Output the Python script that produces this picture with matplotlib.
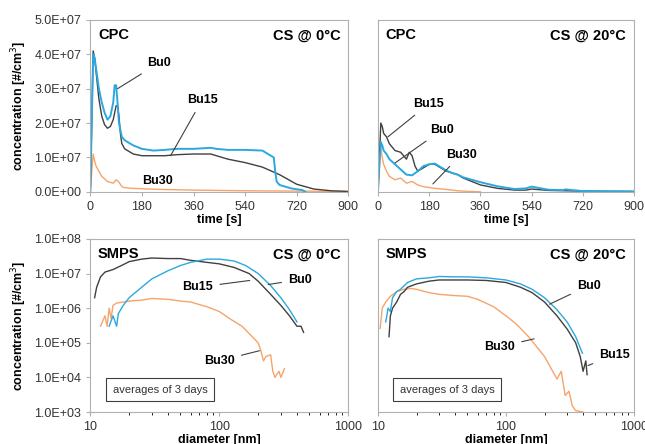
import numpy as np
import matplotlib.pyplot as plt
from matplotlib.ticker import FixedLocator, FuncFormatter, LogLocator, NullFormatter

plt.rcParams['font.family'] = ['Liberation Sans', 'DejaVu Sans']

BLUE = '#2aa9e0'
BLACK = '#404040'
ORANGE = '#f6a46c'

# CPC, CS @ 0C  (values in 1e7 #/cm3)
t0_bu0 = [0, 5, 10, 15, 20, 30, 40, 50, 60, 70, 80, 85, 90, 95, 100, 110, 120, 130, 150, 180, 220, 260, 300, 360, 420, 440, 480, 540, 600, 620, 630, 640, 645, 650, 660, 700, 740, 750]
c0_bu0 = [0, 2, 4.0, 3.9, 3.6, 3.0, 2.6, 2.3, 2.1, 2.2, 2.6, 3.1, 3.1, 2.6, 2.0, 1.6, 1.5, 1.45, 1.35, 1.25, 1.2, 1.22, 1.25, 1.25, 1.28, 1.25, 1.22, 1.22, 1.2, 1.1, 1.05, 1.0, 0.6, 0.3, 0.2, 0.1, 0.05, 0]
t0_bu15 = [0, 5, 10, 15, 20, 30, 40, 50, 60, 70, 80, 90, 95, 100, 105, 110, 120, 130, 150, 180, 220, 260, 300, 360, 420, 440, 480, 540, 600, 660, 720, 780, 840, 900]
c0_bu15 = [0, 2, 4.1, 3.9, 3.5, 2.7, 2.2, 1.95, 1.85, 1.9, 2.1, 2.5, 2.5, 2.2, 1.7, 1.4, 1.25, 1.2, 1.1, 1.05, 1.05, 1.05, 1.08, 1.1, 1.1, 1.05, 0.95, 0.85, 0.72, 0.5, 0.22, 0.08, 0.03, 0.01]
t0_bu30 = [0, 5, 10, 15, 20, 30, 40, 60, 80, 90, 100, 110, 120, 150, 180, 240, 360, 540, 720, 900]
c0_bu30 = [0, 0.6, 1.1, 0.9, 0.75, 0.6, 0.45, 0.3, 0.25, 0.35, 0.28, 0.15, 0.12, 0.1, 0.09, 0.07, 0.05, 0.03, 0.02, 0.01]

# CPC, CS @ 20C
t20_bu0 = [0, 5, 10, 15, 20, 30, 40, 60, 80, 100, 120, 140, 160, 180, 200, 220, 240, 260, 280, 300, 330, 360, 420, 480, 520, 540, 560, 600, 650, 660, 720, 900]
c20_bu0 = [0, 0.8, 1.45, 1.35, 1.2, 1.1, 0.95, 0.8, 0.65, 0.5, 0.48, 0.6, 0.75, 0.8, 0.82, 0.72, 0.62, 0.55, 0.5, 0.42, 0.35, 0.28, 0.16, 0.08, 0.1, 0.15, 0.12, 0.06, 0.05, 0.07, 0.02, 0.01]
t20_bu15 = [0, 5, 10, 15, 20, 30, 40, 60, 80, 100, 110, 120, 130, 140, 160, 180, 200, 220, 240, 260, 280, 300, 330, 360, 420, 480, 520, 540, 600, 660, 720, 900]
c20_bu15 = [0, 1, 2.0, 1.9, 1.7, 1.6, 1.4, 1.2, 1.15, 0.95, 1.15, 1.05, 0.75, 0.6, 0.7, 0.8, 0.8, 0.7, 0.6, 0.55, 0.5, 0.4, 0.3, 0.2, 0.1, 0.05, 0.05, 0.08, 0.04, 0.03, 0.02, 0.01]
t20_bu30 = [0, 5, 10, 15, 20, 30, 40, 60, 80, 100, 120, 140, 160, 200, 240, 280, 320, 360]
c20_bu30 = [0, 0.7, 1.3, 1.0, 0.8, 0.6, 0.45, 0.35, 0.4, 0.25, 0.3, 0.2, 0.15, 0.1, 0.07, 0.03, 0.01, 0]

# SMPS, CS @ 0C
d0_bu15 = [10.8, 11.2, 12, 13, 15, 18, 20, 25, 30, 40, 50, 60, 80, 100, 130, 170, 200, 250, 300, 350, 400, 430, 450]
n0_bu15 = [2e6, 4e6, 8e6, 1.1e7, 1.3e7, 1.8e7, 2.2e7, 2.6e7, 2.8e7, 2.7e7, 2.7e7, 2.4e7, 2.1e7, 1.9e7, 1.5e7, 1e7, 6e6, 2.5e6, 1.2e6, 6e5, 3e5, 3e5, 2e5]
d0_bu0 = [14, 15, 16, 16.5, 18, 20, 25, 30, 40, 50, 60, 80, 100, 130, 160, 200, 250, 300, 350, 400]
n0_bu0 = [3e5, 6e5, 3e5, 7e5, 1.2e6, 2e6, 4e6, 7e6, 1.2e7, 1.7e7, 2.1e7, 2.6e7, 2.6e7, 2.3e7, 1.7e7, 1e7, 4.5e6, 2e6, 9e5, 4e5]
d0_bu30 = [12, 13, 13.5, 14, 14.5, 15, 16, 18, 20, 25, 30, 40, 50, 60, 80, 100, 120, 150, 180, 200, 210, 220, 230, 250, 260, 270, 290, 300, 320]
n0_bu30 = [3e5, 6e5, 3e5, 1e6, 5e5, 1.2e6, 1.4e6, 1.5e6, 1.6e6, 1.7e6, 1.9e6, 1.8e6, 1.6e6, 1.5e6, 1.1e6, 8e5, 5e5, 3e5, 1.5e5, 1e5, 6e4, 3e4, 4e4, 4.5e4, 1.5e4, 1e4, 1.5e4, 1e4, 1.8e4]

# SMPS, CS @ 20C
d20_bu0 = [11.5, 12, 12.5, 13, 14, 15, 17, 20, 25, 30, 40, 50, 70, 100, 130, 160, 200, 250, 300, 350, 395]
n20_bu0 = [4e5, 1e6, 8e5, 2e6, 3e6, 3.5e6, 5.5e6, 7e6, 7.5e6, 8.2e6, 8e6, 8e6, 7.5e6, 6.5e6, 5e6, 3.5e6, 2e6, 9e5, 4e5, 1.5e5, 5e4]
d20_bu15 = [12.2, 12.5, 13, 14, 15, 16, 17, 20, 25, 30, 40, 50, 70, 100, 130, 160, 200, 250, 300, 350, 380, 400, 420, 430]
n20_bu15 = [1.5e5, 6e5, 1e6, 1.5e6, 2.5e6, 3e6, 4e6, 5e6, 6e6, 6.5e6, 6.5e6, 6.5e6, 6.3e6, 5.5e6, 4e6, 2.8e6, 1.5e6, 6e5, 2.5e5, 1e5, 4e4, 1.5e4, 3e4, 1.2e4]
d20_bu30 = [10.4, 10.8, 11.5, 12.5, 14, 16, 18, 20, 25, 30, 40, 50, 60, 80, 100, 120, 150, 200, 250, 270, 290, 310, 330, 350, 400]
n20_bu30 = [2.6e5, 1e6, 1.5e6, 2.2e6, 3e6, 3.5e6, 3.7e6, 3.5e6, 2.8e6, 2.5e6, 2.3e6, 2.2e6, 1.8e6, 1.1e6, 6e5, 3.5e5, 1.5e5, 4e4, 9e3, 1.5e4, 3e3, 4e3, 1.5e3, 1.1e3, 1e3]


def sci(v, pos):
    if v == 0:
        return '0.0E+00'
    e = int(np.floor(np.log10(v) + 1e-9))
    return f'{v / 10**e:.1f}E+{e:02d}'


def style(ax):
    for s in ax.spines.values():
        s.set_color('#b0b0b0')
    ax.tick_params(colors='#333333', labelsize=9, length=3, color='#b0b0b0')


def lead(ax, text, xy, xyt):
    ax.annotate(text, xy=xy, xytext=xyt, fontsize=9, fontweight='bold', ha='center', va='center',
                arrowprops=dict(arrowstyle='-', color='#404040', lw=0.8, shrinkA=3, shrinkB=0))


fig = plt.figure(figsize=(6.45, 4.44), dpi=100)
axes = [fig.add_axes([0.140, 0.568, 0.400, 0.387]), fig.add_axes([0.586, 0.568, 0.397, 0.387]),
        fig.add_axes([0.140, 0.072, 0.400, 0.390]), fig.add_axes([0.586, 0.072, 0.397, 0.390])]

cpc = [(t0_bu0, c0_bu0, t0_bu15, c0_bu15, t0_bu30, c0_bu30, 'CS @ 0°C'),
       (t20_bu0, c20_bu0, t20_bu15, c20_bu15, t20_bu30, c20_bu30, 'CS @ 20°C')]
for i, (ta, ca, tb, cb, tc, cc, lab) in enumerate(cpc):
    ax = axes[i]
    ax.plot(tc, np.array(cc) * 1e7, color=ORANGE, lw=1)
    ax.plot(tb, np.array(cb) * 1e7, color=BLACK, lw=1)
    ax.plot(ta, np.array(ca) * 1e7, color=BLUE, lw=1.4)
    ax.set_xlim(0, 900)
    ax.set_ylim(0, 5e7)
    ax.set_xticks(range(0, 901, 180))
    ax.set_xlabel('time [s]', fontsize=9, fontweight='bold', labelpad=1)
    ax.text(0.03, 0.91, 'CPC', transform=ax.transAxes, fontsize=10.5, fontweight='bold', va='center')
    ax.text(0.97, 0.91, lab, transform=ax.transAxes, fontsize=10.5, fontweight='bold', va='center', ha='right')
    style(ax)
    if i == 0:
        ax.yaxis.set_major_locator(FixedLocator(np.arange(0, 5.01e7, 1e7)))
        ax.yaxis.set_major_formatter(FuncFormatter(sci))
        ax.set_ylabel('concentration [#/cm$^3$]', fontsize=9, fontweight='bold')
    else:
        ax.set_yticks([])

lead(axes[0], 'Bu0', (95, 3.0e7), (240, 3.75e7))
lead(axes[0], 'Bu15', (280, 1.05e7), (390, 2.67e7))
axes[0].text(234, 0.3e7, 'Bu30', fontsize=9, fontweight='bold', ha='center', va='center')
lead(axes[1], 'Bu15', (35, 1.6e7), (179, 2.56e7))
lead(axes[1], 'Bu0', (60, 0.84e7), (225, 1.8e7))
lead(axes[1], 'Bu30', (193, 0.23e7), (292, 1.08e7))

smps = [(d0_bu0, n0_bu0, d0_bu15, n0_bu15, d0_bu30, n0_bu30, 'CS @ 0°C'),
        (d20_bu0, n20_bu0, d20_bu15, n20_bu15, d20_bu30, n20_bu30, 'CS @ 20°C')]
for i, (da, na, db, nb, dc, nc, lab) in enumerate(smps):
    ax = axes[2 + i]
    ax.plot(dc, nc, color=ORANGE, lw=1)
    ax.plot(db, nb, color=BLACK, lw=1)
    ax.plot(da, na, color=BLUE, lw=1)
    ax.set_xscale('log')
    ax.set_yscale('log')
    ax.set_xlim(10, 1000)
    ax.set_ylim(1e3, 1e8)
    ax.xaxis.set_major_formatter(FuncFormatter(lambda v, p: f'{v:g}'))
    ax.xaxis.set_minor_formatter(NullFormatter())
    ax.set_xlabel('diameter [nm]', fontsize=9, fontweight='bold', labelpad=1)
    ax.text(0.03, 0.91, 'SMPS', transform=ax.transAxes, fontsize=10.5, fontweight='bold', va='center')
    ax.text(0.97, 0.91, lab, transform=ax.transAxes, fontsize=10.5, fontweight='bold', va='center', ha='right')
    ax.text(0.27, 0.13, 'averages of 3 days', transform=ax.transAxes, fontsize=8, ha='center', va='center',
            color='#333333', bbox=dict(boxstyle='square,pad=0.6', fc='white', ec='#404040', lw=0.8))
    style(ax)
    if i == 0:
        ax.yaxis.set_major_locator(LogLocator(base=10, numticks=10))
        ax.yaxis.set_major_formatter(FuncFormatter(sci))
        ax.yaxis.set_minor_locator(FixedLocator([]))
        ax.set_ylabel('concentration [#/cm$^3$]', fontsize=9, fontweight='bold')
    else:
        ax.set_yticks([])
        ax.yaxis.set_minor_locator(FixedLocator([]))

lead(axes[2], 'Bu0', (239, 4.8e6), (424, 6.7e6))
lead(axes[2], 'Bu15', (172, 6.3e6), (68, 4e6))
lead(axes[2], 'Bu30', (205, 5.9e4), (100, 3e4))
lead(axes[3], 'Bu0', (219, 1.3e6), (445, 4.5e6))
lead(axes[3], 'Bu15', (437, 2.2e4), (708, 4.4e4))
lead(axes[3], 'Bu30', (166, 1.3e5), (89, 7.6e4))

fig.savefig('out.png', dpi=100)
